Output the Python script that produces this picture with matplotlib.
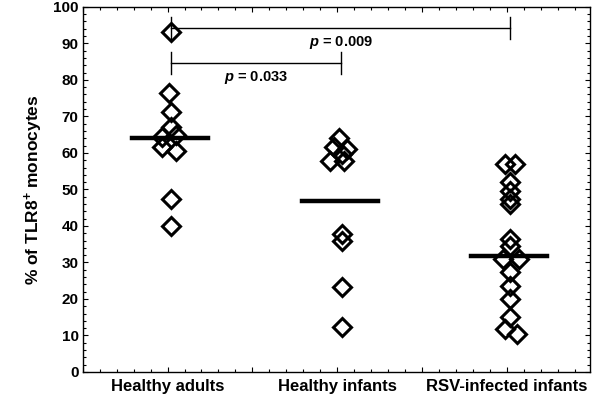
import numpy as np
import matplotlib
matplotlib.use('Agg')
import matplotlib.pyplot as plt
from matplotlib.ticker import MultipleLocator, FuncFormatter

plt.rcParams['font.family'] = ['Liberation Sans', 'DejaVu Sans']
plt.rcParams['font.weight'] = 'bold'
plt.rcParams['mathtext.fontset'] = 'custom'
plt.rcParams['mathtext.it'] = 'Liberation Sans:italic:bold'
plt.rcParams['mathtext.bf'] = 'Liberation Sans:bold'
plt.rcParams['mathtext.rm'] = 'Liberation Sans:bold'

# group names on the x axis
groups = ['Healthy adults', 'Healthy infants', 'RSV-infected infants']

# % of TLR8+ monocytes
adults = [93, 76.5, 71.3, 67.2, 65, 64.4, 61.7, 60.4, 47.3, 40]
infants = [64.2, 61.5, 61, 59.6, 57.7, 57.7, 37.7, 35.8, 23.2, 12.2]
rsv = [57, 57, 52, 49.5, 47.3, 46, 36.3, 34.4, 31, 30.9, 27.3, 23.5, 20, 15, 11.7, 10.4]
means = [64.2, 46.7, 31.7]

# horizontal scatter of overlapping diamonds
jitter = [
    [0.02, 0.01, 0.02, 0.02, 0.05, -0.03, -0.03, 0.05, 0.02, 0.02],
    [0.01, -0.02, 0.06, 0.03, -0.04, 0.04, 0.03, 0.03, 0.03, 0.03],
    [-0.01, 0.05, 0.02, 0.02, 0.02, 0.02, 0.02, 0.02, -0.02, 0.07, 0.02, 0.02, 0.02, 0.02, -0.01, 0.06],
]

# significance brackets: (group a, group b, y, label)
brackets = [(1, 3, 94.3, '$p$ = 0.009'), (1, 2, 84.7, '$p$ = 0.033')]

fig = plt.figure(figsize=(6, 4.03), dpi=100)
ax = fig.add_axes([0.138, 0.077, 0.845, 0.906])

for i, vals in enumerate([adults, infants, rsv]):
    xs = (i + 1) + np.array(jitter[i])
    ax.plot(xs, vals, 'D', ms=9, mfc='none', mec='black', mew=2.2, zorder=3)
    ax.plot([i + 1 - 0.21, i + 1 + 0.24], [means[i], means[i]], color='black', lw=3.2, zorder=4)

for a, b, y, label in brackets:
    xa, xb = a + 0.02, b + 0.02
    ax.plot([xa, xb], [y, y], color='black', lw=1)
    ax.plot([xa, xa], [y - 3, y + 3], color='black', lw=1)
    ax.plot([xb, xb], [y - 3, y + 3], color='black', lw=1)
    ax.text((xa + xb) / 2, y - 1.8, label, ha='center', va='top', fontsize=10.5, fontweight='bold')

ax.set_xlim(0.5, 3.49)
ax.set_ylim(0, 100)
ax.xaxis.set_major_locator(MultipleLocator(0.5))
ax.xaxis.set_minor_locator(MultipleLocator(0.1))
ax.xaxis.set_major_formatter(FuncFormatter(
    lambda v, pos: groups[int(round(v)) - 1] if abs(v - round(v)) < 1e-6 and 1 <= round(v) <= 3 else ''))
ax.yaxis.set_major_locator(MultipleLocator(10))
ax.yaxis.set_minor_locator(MultipleLocator(2))
ax.tick_params(which='both', direction='in', top=True, right=True, width=0.8)
ax.tick_params(which='major', length=3.5)
ax.tick_params(which='minor', length=2)
ax.tick_params(axis='x', which='major', labelsize=12, pad=5)
ax.tick_params(axis='y', which='major', labelsize=11, pad=3)
for lab in ax.get_xticklabels() + ax.get_yticklabels():
    lab.set_fontweight('bold')
for s in ax.spines.values():
    s.set_linewidth(1)

ax.set_ylabel('% of TLR8$^{+}$ monocytes', fontsize=12.5, fontweight='bold', labelpad=6)

fig.savefig('out.png', dpi=100)
